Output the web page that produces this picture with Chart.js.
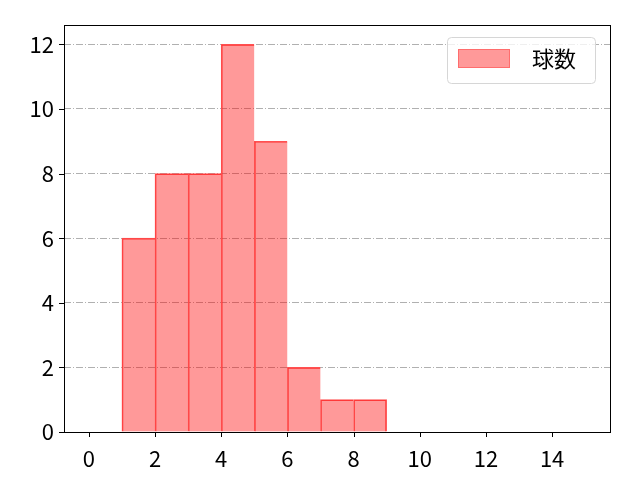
<!DOCTYPE html>
<html>
<head>
<meta charset="utf-8">
<script src="https://cdn.jsdelivr.net/npm/chart.js@4"></script>
<style>
  html, body { margin: 0; padding: 0; background: #fff; }
</style>
</head>
<body>
<canvas id="chart" width="640" height="480"></canvas>
<script>
// histogram bins (left edge) and counts
const binEdges = [0, 1, 2, 3, 4, 5, 6, 7, 8, 9, 10, 11, 12, 13, 14];
const counts   = [0, 6, 8, 8, 12, 9, 2, 1, 1, 0, 0, 0, 0, 0, 0];
const seriesLabel = "球数";
const xTicks = [0, 2, 4, 6, 8, 10, 12, 14];
const yTicks = [0, 2, 4, 6, 8, 10, 12];

const FONT = "'Noto Sans CJK JP', 'Noto Sans', sans-serif";

let points = [];
binEdges.forEach((e, i) => {
  points.push({x: e + 0.5, y: counts[i]});
});

// frame, outward ticks and the matplotlib-like legend box
const mplDecor = {
  id: "mplDecor",
  afterDraw(chart) {
    const ctx = chart.ctx;
    const a = chart.chartArea;
    const xs = chart.scales.x, ys = chart.scales.y;
    ctx.save();
    ctx.strokeStyle = "#000";
    ctx.lineWidth = 1;
    ctx.strokeRect(Math.round(a.left) + 0.5, Math.round(a.top) + 0.5,
      Math.round(a.right - a.left), Math.round(a.bottom - a.top));
    ctx.beginPath();
    xTicks.forEach(v => {
      const px = Math.round(xs.getPixelForValue(v)) + 0.5;
      ctx.moveTo(px, a.bottom);
      ctx.lineTo(px, a.bottom + 5);
    });
    yTicks.forEach(v => {
      const py = Math.round(ys.getPixelForValue(v)) + 0.5;
      ctx.moveTo(a.left, py);
      ctx.lineTo(a.left - 5, py);
    });
    ctx.stroke();

    // legend
    const bx = 447.5, by = 37.5, bw = 148, bh = 46, r = 4;
    ctx.beginPath();
    ctx.moveTo(bx + r, by);
    ctx.arcTo(bx + bw, by, bx + bw, by + bh, r);
    ctx.arcTo(bx + bw, by + bh, bx, by + bh, r);
    ctx.arcTo(bx, by + bh, bx, by, r);
    ctx.arcTo(bx, by, bx + bw, by, r);
    ctx.closePath();
    ctx.fillStyle = "rgba(255,255,255,0.8)";
    ctx.fill();
    ctx.strokeStyle = "#d6d6d6";
    ctx.stroke();
    ctx.fillStyle = "rgba(255,0,0,0.4)";
    ctx.fillRect(458, 49, 52, 19);
    ctx.strokeStyle = "rgba(255,80,80,0.6)";
    ctx.strokeRect(458.5, 49.5, 51, 18);
    ctx.fillStyle = "#000";
    ctx.font = "22px " + FONT;
    ctx.textBaseline = "middle";
    ctx.fillText(seriesLabel, 532, 59);
    ctx.restore();
  }
};

new Chart(document.getElementById("chart"), {
  type: "bar",
  data: {
    datasets: [{
      label: seriesLabel,
      data: points,
      backgroundColor: "rgba(255,0,0,0.4)",
      borderColor: "#ff5050",
      // single edge line between neighbouring bars
      borderWidth: c => ({
        left: 1, top: 1, bottom: 0,
        right: counts[c.dataIndex + 1] ? 0 : 1
      }),
      borderSkipped: false,
      barPercentage: 1.0,
      categoryPercentage: 1.0
    }]
  },
  options: {
    responsive: false,
    animation: false,
    devicePixelRatio: 1,
    layout: { padding: { top: 25, right: 30, left: 0, bottom: 0 } },
    plugins: { legend: { display: false }, tooltip: { enabled: false } },
    scales: {
      x: {
        type: "linear",
        offset: false,
        min: -0.75,
        max: 15.75,
        grid: { display: false, offset: false },
        border: { display: false },
        afterBuildTicks: s => { s.ticks = xTicks.map(v => ({value: v})); },
        afterFit: s => { s.height = 48; },
        ticks: { color: "#000", font: { family: FONT, size: 22 }, padding: 5, maxRotation: 0, autoSkip: false }
      },
      y: {
        min: 0,
        max: 12.6,
        grid: { color: "#b0b0b0", lineWidth: 1, drawTicks: false },
        border: { display: false, dash: [7, 2, 1, 2] },
        afterBuildTicks: s => { s.ticks = yTicks.map(v => ({value: v})); },
        afterFit: s => { s.width = 64; },
        ticks: { color: "#000", font: { family: FONT, size: 22 }, padding: 10, autoSkip: false }
      }
    }
  },
  plugins: [mplDecor]
});
</script>
</body>
</html>
